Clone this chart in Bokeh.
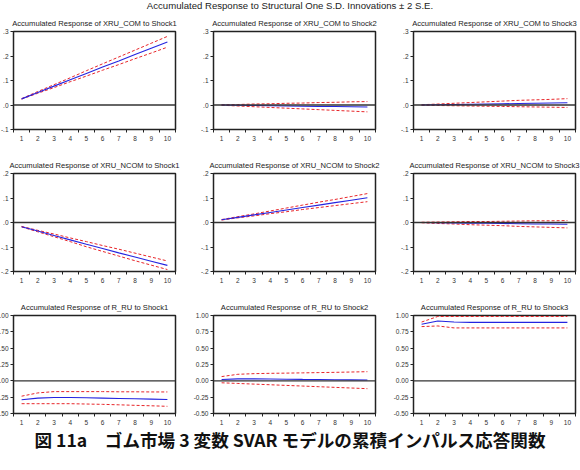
from bokeh.plotting import figure
from bokeh.layouts import column, row
from bokeh.models import Div, Span, FixedTicker, NumeralTickFormatter
from bokeh.embed import file_html
from bokeh.resources import INLINE

steps = [1, 2, 3, 4, 5, 6, 7, 8, 9, 10]

main_title = "Accumulated Response to Structural One S.D. Innovations \u00b1 2 S.E."
caption = "図 11a\u3000ゴム市場 3 変数 SVAR モデルの累積インパルス応答関数"

# Row 1: XRU_COM
xru_com_s1_mean = [0.025, 0.051, 0.077, 0.103, 0.129, 0.155, 0.180, 0.206, 0.232, 0.257]
xru_com_s1_up = [0.026, 0.055, 0.083, 0.111, 0.140, 0.168, 0.196, 0.224, 0.252, 0.280]
xru_com_s1_lo = [0.024, 0.048, 0.071, 0.095, 0.118, 0.142, 0.165, 0.189, 0.212, 0.236]

xru_com_s2_mean = [0.000, -0.001, -0.002, -0.003, -0.004, -0.005, -0.006, -0.006, -0.007, -0.008]
xru_com_s2_up = [0.001, 0.002, 0.004, 0.005, 0.007, 0.008, 0.010, 0.011, 0.013, 0.014]
xru_com_s2_lo = [-0.001, -0.004, -0.007, -0.010, -0.013, -0.016, -0.019, -0.022, -0.025, -0.028]

xru_com_s3_mean = [0.000, 0.001, 0.002, 0.003, 0.004, 0.005, 0.006, 0.007, 0.008, 0.009]
xru_com_s3_up = [0.001, 0.004, 0.007, 0.010, 0.013, 0.016, 0.019, 0.021, 0.023, 0.026]
xru_com_s3_lo = [-0.001, -0.002, -0.003, -0.004, -0.005, -0.006, -0.007, -0.008, -0.009, -0.010]

# Row 2: XRU_NCOM
xru_ncom_s1_mean = [-0.017, -0.035, -0.053, -0.071, -0.089, -0.106, -0.124, -0.141, -0.158, -0.175]
xru_ncom_s1_up = [-0.016, -0.032, -0.047, -0.063, -0.078, -0.094, -0.109, -0.125, -0.141, -0.157]
xru_ncom_s1_lo = [-0.018, -0.038, -0.058, -0.078, -0.099, -0.118, -0.137, -0.156, -0.174, -0.192]

xru_ncom_s2_mean = [0.011, 0.021, 0.031, 0.041, 0.051, 0.061, 0.071, 0.081, 0.091, 0.101]
xru_ncom_s2_up = [0.012, 0.024, 0.035, 0.047, 0.059, 0.071, 0.083, 0.094, 0.106, 0.118]
xru_ncom_s2_lo = [0.010, 0.019, 0.027, 0.036, 0.044, 0.053, 0.061, 0.069, 0.077, 0.085]

xru_ncom_s3_mean = [0.000, -0.001, -0.002, -0.003, -0.003, -0.004, -0.005, -0.006, -0.006, -0.007]
xru_ncom_s3_up = [0.001, 0.002, 0.003, 0.004, 0.004, 0.005, 0.006, 0.007, 0.007, 0.008]
xru_ncom_s3_lo = [-0.001, -0.004, -0.006, -0.009, -0.011, -0.013, -0.016, -0.018, -0.020, -0.022]

# Row 3: R_RU
r_ru_s1_mean = [-0.290, -0.265, -0.255, -0.255, -0.260, -0.265, -0.270, -0.275, -0.280, -0.285]
r_ru_s1_up = [-0.235, -0.185, -0.165, -0.165, -0.165, -0.165, -0.168, -0.168, -0.170, -0.170]
r_ru_s1_lo = [-0.350, -0.350, -0.350, -0.350, -0.355, -0.360, -0.367, -0.375, -0.382, -0.390]

r_ru_s2_mean = [0.020, 0.030, 0.030, 0.028, 0.025, 0.022, 0.020, 0.017, 0.015, 0.012]
r_ru_s2_up = [0.065, 0.100, 0.110, 0.115, 0.118, 0.122, 0.126, 0.130, 0.135, 0.140]
r_ru_s2_lo = [-0.030, -0.040, -0.050, -0.060, -0.070, -0.080, -0.090, -0.100, -0.110, -0.120]

r_ru_s3_mean = [0.865, 0.915, 0.900, 0.895, 0.895, 0.895, 0.895, 0.895, 0.895, 0.895]
r_ru_s3_up = [0.900, 0.985, 0.985, 0.985, 0.985, 0.985, 0.985, 0.985, 0.985, 0.985]
r_ru_s3_lo = [0.830, 0.840, 0.810, 0.810, 0.810, 0.810, 0.810, 0.810, 0.810, 0.810]

row1_ticks = [-0.1, 0.0, 0.1, 0.2, 0.3]
row1_labels = ["-.1", ".0", ".1", ".2", ".3"]
row2_ticks = [-0.2, -0.1, 0.0, 0.1, 0.2]
row2_labels = ["-.2", "-.1", ".0", ".1", ".2"]
row3_ticks = [-0.5, -0.25, 0.0, 0.25, 0.5, 0.75, 1.0]

FONT = "Liberation Sans"
FRAME_H = 98


def panel(title, mean, up, lo, yr, yticks, ylabels, width, lb, rb, top, bottom, margin):
    p = figure(width=width, height=top + FRAME_H + bottom, x_range=(0.5, 10.5), y_range=yr,
               output_backend="svg", toolbar_location=None,
               min_border_left=lb, min_border_right=rb, min_border_top=top, min_border_bottom=bottom)
    p.margin = margin
    p.title.text = title
    p.title.align = "center"
    p.title.text_font = FONT
    p.title.text_font_size = "7.6px"
    p.title.text_font_style = "normal"
    p.title.text_color = "#222222"
    p.title.standoff = 7
    p.grid.visible = False
    p.outline_line_color = "#222222"
    p.outline_line_width = 1.5
    p.background_fill_color = "white"
    p.border_fill_color = "white"

    p.add_layout(Span(location=0, dimension="width", line_color="#333333", line_width=1.3))
    p.line(steps, up, line_color="#e8262a", line_width=1, line_dash="3 2")
    p.line(steps, lo, line_color="#e8262a", line_width=1, line_dash="3 2")
    p.line(steps, mean, line_color="#2424e0", line_width=1.1)

    xa = p.xaxis[0]
    xa.ticker = FixedTicker(ticks=steps, minor_ticks=[s - 0.5 for s in steps] + [10.5])
    xa.major_tick_out = 0
    xa.major_tick_in = 0
    xa.minor_tick_out = 3
    xa.minor_tick_in = 0
    xa.minor_tick_line_color = "#222222"
    xa.axis_line_color = None
    xa.major_label_text_font = FONT
    xa.major_label_text_font_size = "6.5px"
    xa.major_label_text_color = "#333333"
    xa.major_label_standoff = 3

    ya = p.yaxis[0]
    ya.ticker = FixedTicker(ticks=yticks)
    ya.major_tick_out = 3
    ya.major_tick_in = 0
    ya.minor_tick_out = 0
    ya.minor_tick_in = 0
    ya.major_tick_line_color = "#222222"
    ya.axis_line_color = None
    ya.major_label_text_font = FONT
    ya.major_label_text_font_size = "6.5px"
    ya.major_label_text_color = "#333333"
    ya.major_label_standoff = 2
    if ylabels is None:
        ya.formatter = NumeralTickFormatter(format="0.00")
    else:
        ov = {}
        for t, l in zip(yticks, ylabels):
            ov[t] = l
            ov[str(t)] = l
        ya.major_label_overrides = ov
    return p


rows_spec = [
    ("XRU_COM", [(xru_com_s1_mean, xru_com_s1_up, xru_com_s1_lo),
                 (xru_com_s2_mean, xru_com_s2_up, xru_com_s2_lo),
                 (xru_com_s3_mean, xru_com_s3_up, xru_com_s3_lo)],
     (-0.1, 0.3), row1_ticks, row1_labels, 19),
    ("XRU_NCOM", [(xru_ncom_s1_mean, xru_ncom_s1_up, xru_ncom_s1_lo),
                  (xru_ncom_s2_mean, xru_ncom_s2_up, xru_ncom_s2_lo),
                  (xru_ncom_s3_mean, xru_ncom_s3_up, xru_ncom_s3_lo)],
     (-0.2, 0.2), row2_ticks, row2_labels, 30),
    ("R_RU", [(r_ru_s1_mean, r_ru_s1_up, r_ru_s1_lo),
              (r_ru_s2_mean, r_ru_s2_up, r_ru_s2_lo),
              (r_ru_s3_mean, r_ru_s3_up, r_ru_s3_lo)],
     (-0.5, 1.0), row3_ticks, None, 30),
]

grid_rows = []
for var, series, yr, yt, yl, top in rows_spec:
    figs = []
    for j, (m, u, l) in enumerate(series):
        title = "Accumulated Response of %s to Shock%d" % (var, j + 1)
        if j == 0:
            f = panel(title, m, u, l, yr, yt, yl, 200, 30, 8, top, 14, (0, 0, 0, -17))
        elif j == 1:
            f = panel(title, m, u, l, yr, yt, yl, 200, 30, 8, top, 14, (0, 0, 0, 0))
        else:
            f = panel(title, m, u, l, yr, yt, yl, 197, 30, 5, top, 14, (0, 0, 0, 0))
        figs.append(f)
    grid_rows.append(row(*figs, spacing=0))

head = Div(text=main_title, width=580, height=12, margin=(0, 0, 0, 0),
           styles={"font-family": FONT, "font-size": "9.6px", "text-align": "center",
                   "line-height": "11px", "color": "#222222", "width": "580px"})
foot = Div(text=caption, width=580, height=36, margin=(0, 0, 0, 0),
           styles={"font-family": "Noto Sans CJK JP", "font-size": "17.6px", "font-weight": "bold",
                   "text-align": "center", "line-height": "22px", "padding-top": "2px",
                   "color": "#111111", "width": "580px"})

layout = column(head, *grid_rows, foot, spacing=0)

with open("out.html", "w") as fh:
    fh.write(file_html(layout, INLINE))
